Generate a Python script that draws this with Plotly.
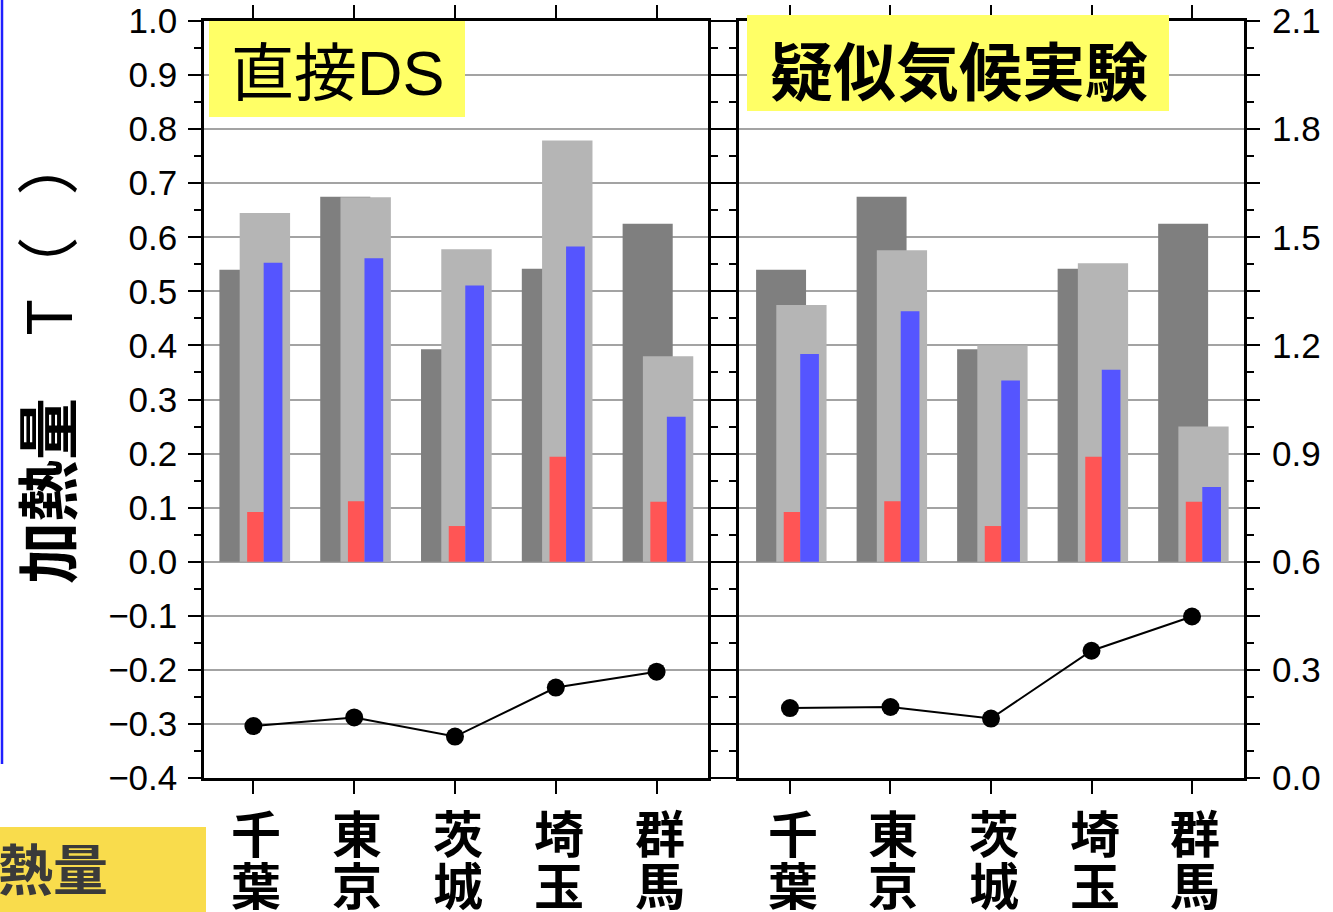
import plotly.graph_objects as go

# ---- data ---------------------------------------------------------------
categories = ["千葉", "東京", "茨城", "埼玉", "群馬"]

# heating amount (left axis), shared by both panels
base_dark = [0.540, 0.675, 0.393, 0.542, 0.625]
red_part = [0.092, 0.112, 0.066, 0.194, 0.111]

# 直接DS panel
ds_light = [0.645, 0.674, 0.578, 0.779, 0.380]
ds_blue = [0.553, 0.561, 0.511, 0.583, 0.268]
ds_line = [0.144, 0.168, 0.115, 0.251, 0.295]      # right-axis scale

# 疑似気候実験 panel
pgw_light = [0.475, 0.576, 0.400, 0.552, 0.250]
pgw_blue = [0.384, 0.463, 0.335, 0.355, 0.138]
pgw_line = [0.194, 0.197, 0.165, 0.353, 0.448]     # right-axis scale

left_tick_vals = [-0.4, -0.3, -0.2, -0.1, 0.0, 0.1, 0.2, 0.3, 0.4, 0.5, 0.6, 0.7, 0.8, 0.9, 1.0]
right_tick_labels = ["0.0", "0.3", "0.6", "0.9", "1.2", "1.5", "1.8", "2.1"]

y_title = "加熱量"

# ---- page geometry (pixels) ---------------------------------------------
W, H = 1333, 912
L, R, T, B = 204, 89, 21, 134
PW, PH = W - L - R, H - T - B


def px(x):
    return (x - L) / PW


def py(y):
    return (H - B - y) / PH


fig = go.Figure()

# bar geometry in category units (offset = left edge relative to category)
bar_specs = {
    "dark": dict(offset=-0.337, width=0.497, color="#7f7f7f"),
    "light": dict(offset=-0.136, width=0.500, color="#b5b5b5"),
    "red": dict(offset=-0.062, width=0.165, color="#ff5555"),
    "blue": dict(offset=0.102, width=0.186, color="#5555ff"),
}


def add_panel(xa, ya, ya_line, light, blue, line):
    for key, vals in (("dark", base_dark), ("light", light), ("red", red_part), ("blue", blue)):
        s = bar_specs[key]
        fig.add_trace(go.Bar(
            x=categories, y=vals, offset=s["offset"], width=s["width"],
            marker=dict(color=s["color"], line=dict(width=0)),
            xaxis=xa, yaxis=ya, hoverinfo="skip",
        ))
    fig.add_trace(go.Scatter(
        x=categories, y=line, mode="lines+markers",
        line=dict(color="black", width=2),
        marker=dict(color="black", size=18),
        xaxis=xa, yaxis=ya_line, cliponaxis=False,
    ))


add_panel("x", "y", "y3", ds_light, ds_blue, ds_line)
add_panel("x2", "y2", "y4", pgw_light, pgw_blue, pgw_line)

frame = dict(showline=True, linecolor="black", linewidth=2.5, mirror="ticks",
             ticks="outside", ticklen=13, tickwidth=2, tickcolor="black", zeroline=False)

xcommon = dict(type="category", showticklabels=False, showgrid=False, **frame)
ycommon = dict(range=[-0.4, 1.0], tickmode="array", tickvals=left_tick_vals, tickformat=".1f",
               showgrid=True, gridcolor="#a3a3a3", gridwidth=1.5,
               minor=dict(ticks="outside", ticklen=7, tickwidth=2, tickcolor="black",
                          dtick=0.05, tick0=0, showgrid=False),
               **frame)

right_vals = [round(0.15 * i, 2) for i in range(15)]
right_text = []
for i, v in enumerate(right_vals):
    right_text.append(right_tick_labels[i // 2] if i % 2 == 0 else "")

tick_font = dict(family="Liberation Sans, Arial, sans-serif", size=35, color="black")

fig.update_layout(
    width=W, height=H, margin=dict(l=L, r=R, t=T, b=B, autoexpand=False),
    plot_bgcolor="white", paper_bgcolor="white", showlegend=False, barmode="overlay",
    font=tick_font,
    xaxis=dict(domain=[0, px(708)], range=[-0.49, 4.51], anchor="y", **xcommon),
    xaxis2=dict(domain=[px(739), 1], range=[-0.507, 4.517], anchor="y2", **xcommon),
    yaxis=dict(anchor="x", ticklabelstandoff=4, tickfont=tick_font, **ycommon),
    yaxis2=dict(anchor="x2", showticklabels=False, **ycommon),
    yaxis3=dict(overlaying="y", anchor="x", range=[0, 2.1], visible=False),
    yaxis4=dict(overlaying="y2", anchor="x2", side="right", range=[0, 2.1],
                tickmode="array", tickvals=right_vals, ticktext=right_text,
                ticklabelstandoff=7, tickfont=tick_font,
                ticks="outside", ticklen=13, tickwidth=2, tickcolor="black",
                minor=dict(ticks="outside", ticklen=7, tickwidth=2, tickcolor="black",
                           dtick=0.075, tick0=0, showgrid=False),
                showgrid=False, zeroline=False, showline=False),
)

shapes = [
    # panel title boxes
    dict(type="rect", xref="paper", yref="paper", x0=px(209), x1=px(465), y0=py(117), y1=py(21),
         fillcolor="#ffff66", line=dict(width=0), layer="above"),
    dict(type="rect", xref="paper", yref="paper", x0=px(747), x1=px(1169), y0=py(111), y1=py(15),
         fillcolor="#ffff66", line=dict(width=0), layer="above"),
    # slide fragments at the left edge
    dict(type="line", xref="paper", yref="paper", x0=px(2), x1=px(2), y0=py(764), y1=py(-2),
         line=dict(color="#1f1fff", width=2.5)),
    dict(type="rect", xref="paper", yref="paper", x0=px(-5), x1=px(206), y0=py(920), y1=py(827),
         fillcolor="#f9dc4c", line=dict(width=0)),
]

cjk = "Noto Sans CJK JP"
nb = "\u00a0"
annotations = [
    dict(text="直接<span style='font-family:Liberation Sans'>DS</span>", xref="paper", yref="paper",
         x=px(338), y=py(68), xanchor="center", yanchor="middle", showarrow=False,
         font=dict(family=cjk, size=63, color="black")),
    dict(text="<b>疑似気候実験</b>", xref="paper", yref="paper", x=px(959), y=py(67),
         xanchor="center", yanchor="middle", showarrow=False,
         font=dict(family=cjk, size=63, color="black")),
    dict(text="<b>" + y_title + "</b>\u3000T（" + nb * 3 + "）", xref="paper", yref="paper",
         x=px(45), y=py(359), xanchor="center", yanchor="middle", showarrow=False, textangle=-90,
         font=dict(family=cjk, size=62, color="black")),
    dict(text="<b>" + y_title + "</b>", xref="paper", yref="paper", x=px(110), y=py(866),
         xanchor="right", yanchor="middle", showarrow=False,
         font=dict(family=cjk, size=55, color="#3a3a3a")),
]

for xa in ("x", "x2"):
    for cat in categories:
        for row, yy in enumerate((831, 883)):
            annotations.append(dict(
                text="<b>" + cat[row] + "</b>", xref=xa, yref="paper", x=cat, y=py(yy),
                xanchor="center", yanchor="middle", xshift=3, showarrow=False,
                font=dict(family=cjk, size=50, color="black")))

fig.update_layout(shapes=shapes, annotations=annotations)

fig.write_html("out.html")
